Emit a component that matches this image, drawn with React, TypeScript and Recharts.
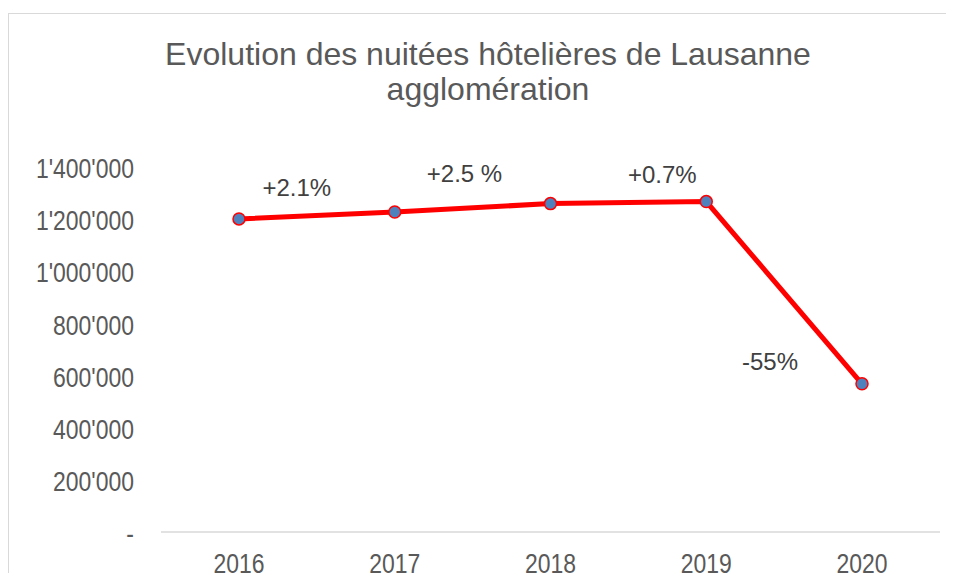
import React from 'react';
import { LineChart, Line, XAxis, YAxis, LabelList } from 'recharts';

// nuitées hôtelières, Lausanne agglomération
const years = ['2016', '2017', '2018', '2019', '2020'];
const nights = [1200900, 1227700, 1259600, 1267300, 568400];
const changeLabels = ['', '+2.1%', '+2.5 %', '+0.7%', '-55%'];
const yTicks = [0, 200000, 400000, 600000, 800000, 1000000, 1200000, 1400000];

// where each change label sits relative to its point
const labelOffsets = [
  { dx: 0, dy: 0 },
  { dx: -98, dy: -24 },
  { dx: -86, dy: -30 },
  { dx: -44, dy: -27 },
  { dx: -92, dy: -22 },
];

const data = years.map((year, i) => ({ year, value: nights[i], label: changeLabels[i] }));

const formatTick = (v: number) =>
  v === 0 ? '-' : String(v).replace(/\B(?=(\d{3})+(?!\d))/g, "'");

const mainFont = '"Liberation Sans", Arial, sans-serif';
// axis labels in the reference are a narrow face; squeeze the regular one
const NARROW = 0.82;

const YTick = (props: any) => {
  const { x, y, payload } = props;
  return (
    <text
      transform={`translate(${x},${y}) scale(${NARROW},1)`}
      dy="0.4em"
      textAnchor="end"
      fill="#595959"
      fontSize={28}
      fontFamily={mainFont}
    >
      {formatTick(payload.value)}
    </text>
  );
};

const XTick = (props: any) => {
  const { x, y, payload } = props;
  return (
    <text
      transform={`translate(${x},${y}) scale(${NARROW},1)`}
      dy="0.71em"
      textAnchor="middle"
      fill="#595959"
      fontSize={28}
      fontFamily={mainFont}
    >
      {payload.value}
    </text>
  );
};

const ChangeLabel = (props: any) => {
  const { x, y, index, value } = props;
  if (!value) return null;
  const off = labelOffsets[index];
  return (
    <text
      x={x + off.dx}
      y={y + off.dy}
      dy="0.35em"
      textAnchor="middle"
      fill="#404040"
      fontSize={24}
      fontFamily={mainFont}
    >
      {value}
    </text>
  );
};

const App: React.FC = () => {
  return (
    <div style={{ position: 'relative', width: 954, height: 581, margin: -8, background: '#fff', overflow: 'hidden' }}>
      <div
        style={{
          position: 'absolute',
          left: 8,
          top: 13,
          width: 960,
          height: 600,
          border: '1px solid #d9d9d9',
        }}
      />
      <svg width={954} height={120} style={{ position: 'absolute', left: 0, top: 0 }}>
        <text x={488} y={65} textAnchor="middle" fill="#595959" fontSize={32} fontFamily={mainFont}>
          Evolution des nuitées hôtelières de Lausanne
        </text>
        <text x={488} y={100} textAnchor="middle" fill="#595959" fontSize={32} fontFamily={mainFont}>
          agglomération
        </text>
      </svg>
      <div style={{ position: 'absolute', left: 0, top: 0 }}>
        <LineChart
          width={954}
          height={581}
          data={data}
          margin={{ top: 167, right: 14, left: 81, bottom: 9 }}
        >
          <XAxis
            dataKey="year"
            padding={{ left: 78, right: 78 }}
            axisLine={{ stroke: '#d9d9d9', strokeWidth: 1.5 }}
            tickLine={false}
            tickSize={0}
            tickMargin={21}
            height={40}
            tick={<XTick />}
          />
          <YAxis
            width={80}
            domain={[0, 1400000]}
            ticks={yTicks}
            axisLine={false}
            tickLine={false}
            tickSize={0}
            tickMargin={27}
            tick={<YTick />}
          />
          <Line
            type="linear"
            dataKey="value"
            stroke="#ff0000"
            strokeWidth={5}
            dot={{ r: 6, fill: '#4f81bd', stroke: '#ff0000', strokeWidth: 1.5 }}
            activeDot={false}
            isAnimationActive={false}
          >
            <LabelList dataKey="label" content={ChangeLabel} />
          </Line>
        </LineChart>
      </div>
    </div>
  );
};

export default App;
